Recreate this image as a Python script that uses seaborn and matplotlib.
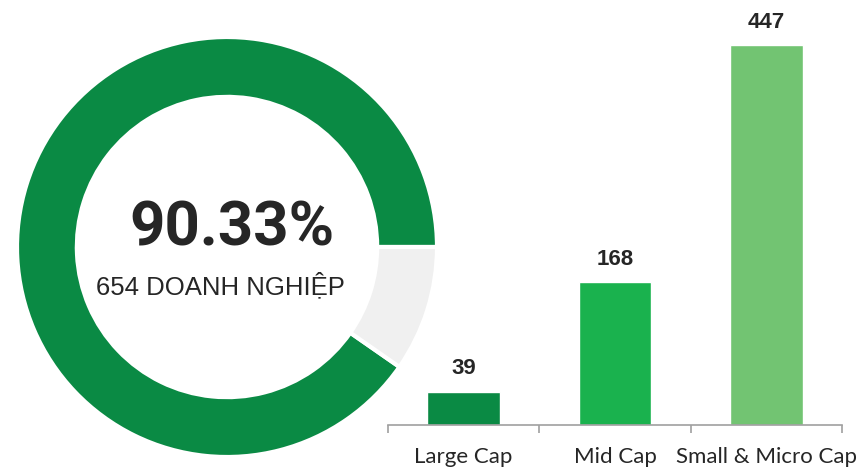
import matplotlib
matplotlib.use("Agg")
import matplotlib.pyplot as plt
import seaborn as sns
import pandas as pd

# Data
donut_labels = ["Doanh nghiệp", "Còn lại"]
donut_values = [90.33, 9.67]
center_pct = "90.33%"
center_sub = "654 DOANH NGHIỆP"
categories = ["Large Cap", "Mid Cap", "Small & Micro Cap"]
counts = [39, 168, 447]

donut_colors = ["#0A8A44", "#F0F0F0"]
bar_colors = ["#0A8A44", "#1AB24E", "#72C472"]

sns.set_theme(style="white")
plt.rcParams['font.family'] = ['Roboto', 'DejaVu Sans']

fig = plt.figure(figsize=(8.68, 4.72), dpi=100)

# Bars (drawn first, transparent background)
ax2 = fig.add_axes([388/868, 47/472, 454/868, 425/472])
ax2.patch.set_alpha(0)
df = pd.DataFrame({"cat": categories, "n": counts})
sns.barplot(data=df, x="cat", y="n", hue="cat", palette=bar_colors,
            legend=False, width=0.48, ax=ax2, saturation=1)
ax2.set_xlim(-0.5, 2.5)
ax2.set_ylim(0, 500)
for c in ax2.containers:
    ax2.bar_label(c, padding=9, fontsize=16, fontweight="bold", color="#262626",
                  family=["Liberation Sans", "DejaVu Sans"])
for s in ["top", "right", "left"]:
    ax2.spines[s].set_visible(False)
ax2.spines["bottom"].set_color("#A0A0A0")
ax2.spines["bottom"].set_linewidth(1.2)
ax2.set_yticks([])
ax2.set_xlabel("")
ax2.set_ylabel("")
ax2.set_xticks([0, 1, 2])
ax2.set_xticklabels(categories, fontsize=16, color="#262626", family=["Lato", "DejaVu Sans"])
ax2.tick_params(axis="x", which="major", length=0, pad=16)
ax2.set_xticks([-0.5, 0.5, 1.5, 2.5], minor=True)
ax2.tick_params(axis="x", which="minor", length=6, width=1.2, color="#A0A0A0", direction="out", bottom=True)

# Donut
ax1 = fig.add_axes([17/868, 15/472, 420/868, 420/472])
ax1.patch.set_alpha(0)
ax1.pie(donut_values, colors=donut_colors, startangle=0, counterclock=True,
        radius=1, wedgeprops=dict(width=0.285, edgecolor="white", linewidth=3))
ax1.set_xlim(-1.0, 1.0)
ax1.set_ylim(-1.0, 1.0)
ax1.set_aspect("equal")
ax1.axis("off")
ax1.text(0.025, 0.09, center_pct, ha="center", va="center", fontsize=44.5,
         fontweight="bold", color="#262626")
ax1.text(-0.03, -0.185, center_sub, ha="center", va="center", fontsize=18.5,
         color="#262626", family=["Liberation Sans", "DejaVu Sans"])

fig.savefig("out.png", dpi=100)
